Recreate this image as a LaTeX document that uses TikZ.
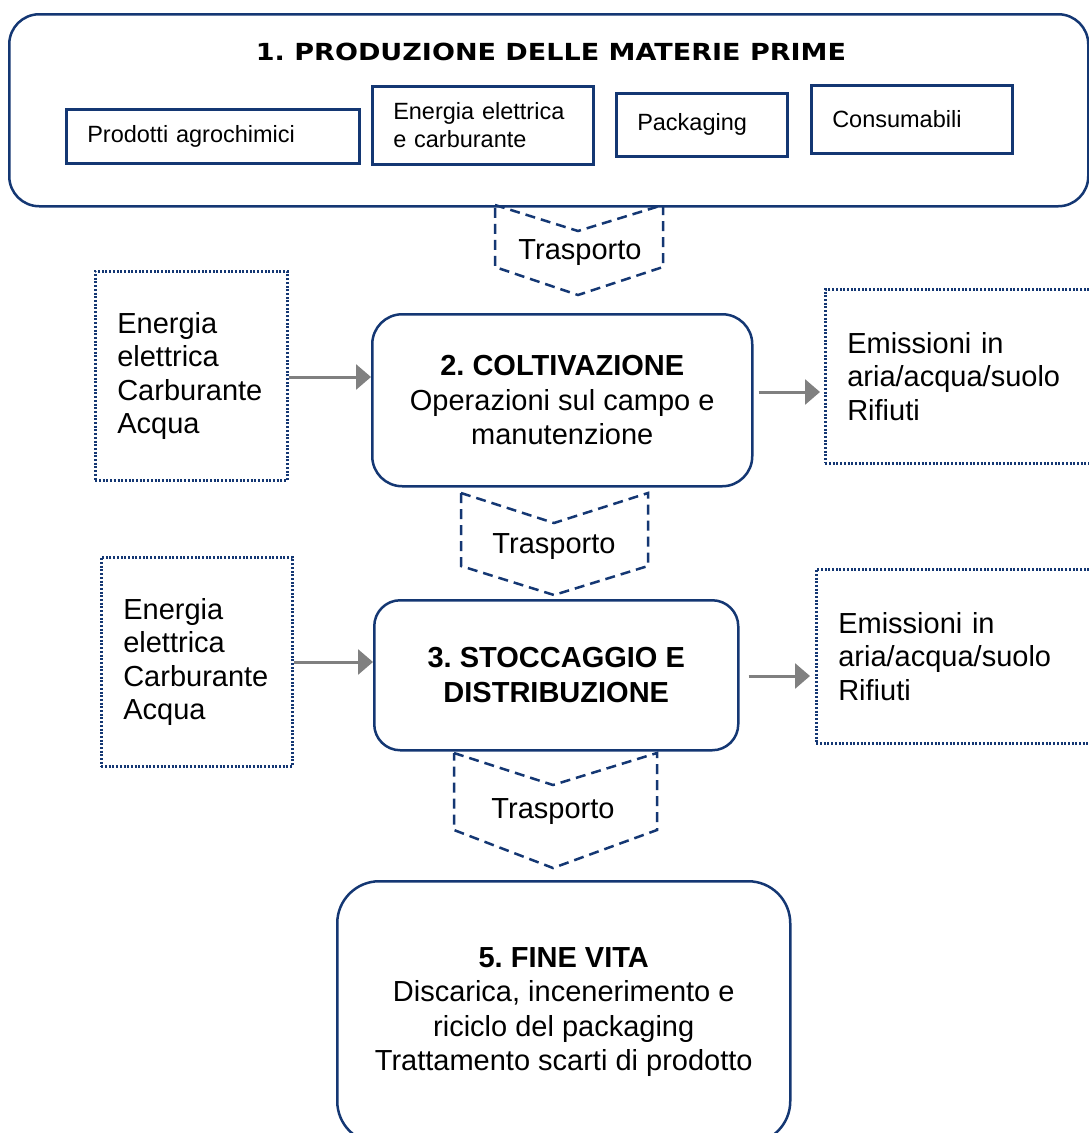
\documentclass[tikz,border=0pt]{standalone}
\usepackage{fontspec}
\setmainfont{Liberation Sans}
\newfontfamily\titlefont[FakeStretch=1.15]{DejaVu Sans}
\usetikzlibrary{arrows.meta}
\definecolor{navy}{RGB}{20,55,115}
\definecolor{arrgray}{RGB}{128,128,128}
\frenchspacing
\tikzset{
  bigbox/.style={draw=navy,line width=2.5pt,anchor=north west,inner sep=0pt,align=center,
    font=\fontsize{29}{34.5}\selectfont},
  smallbox/.style={draw=navy,line width=2.5pt,anchor=north west,inner xsep=21pt,inner ysep=0pt,
    align=left,font=\fontsize{23.5}{28}\selectfont},
  dotbox/.style={draw=navy,line width=2.6pt,dash pattern=on 2pt off 1.7pt,anchor=north west,
    inner xsep=22pt,inner ysep=0pt,align=left,font=\fontsize{29}{33.5}\selectfont},
  chev/.style={draw=navy,line width=2.5pt,dash pattern=on 10pt off 6pt},
  chevtext/.style={font=\fontsize{29}{34}\selectfont,inner sep=0pt},
  grayarr/.style={draw=arrgray,line width=3pt,-{Triangle[length=15pt,width=25pt]}},
}
\begin{document}
\begin{tikzpicture}[x=1pt,y=-1pt]
\clip (0,0) rectangle (1089,1133);
\fill[white] (0,0) rectangle (1089,1133);

% Box 1
\node[bigbox,rounded corners=30pt,minimum width=1079pt,minimum height=192pt] (p1) at (8,13) {};
\node[font=\titlefont\bfseries\fontsize{23.5}{27}\selectfont,inner sep=0pt] (p1t) at (551,52) {1. PRODUZIONE DELLE MATERIE PRIME};
\node[smallbox,text width=251pt,minimum height=54pt] (pa) at (65,108) {Prodotti agrochimici};
\node[smallbox,text width=179pt,minimum height=78pt] (pe) at (371,85) {Energia elettrica\\e carburante};
\node[smallbox,text width=129pt,minimum height=63pt] (pk) at (615,92) {Packaging};
\node[smallbox,text width=159pt,minimum height=68pt] (pc) at (810,84) {Consumabili};

% Chevron 1
\draw[chev] (495,205) -- (578,231) -- (663,205) -- (663,267) -- (578,295) -- (495,267) -- cycle;
\node[chevtext] (t1) at (580,253) {Trasporto};

% Box 2
\node[bigbox,rounded corners=30pt,minimum width=380pt,minimum height=172pt] (c2) at (371,313)
  {\textbf{2. COLTIVAZIONE}\\Operazioni sul campo e\\manutenzione};
\node[dotbox,text width=148pt,minimum height=209pt] (l1) at (94,270)
  {Energia\\elettrica\\Carburante\\Acqua};
\node[dotbox,text width=236pt,minimum height=174pt] (r1) at (824,288)
  {Emissioni in\\aria/acqua/suolo\\Rifiuti};
\draw[grayarr] (l1.east |- 0,377) -- (c2.west |- 0,377);
\draw[grayarr,shorten <=5pt,shorten >=4pt] (c2.east |- 0,392) -- (r1.west |- 0,392);

% Chevron 2
\draw[chev] (461,493) -- (554,523) -- (648,493) -- (648,566) -- (554,595) -- (461,566) -- cycle;
\node[chevtext] (t2) at (554,547) {Trasporto};

% Box 3
\node[bigbox,rounded corners=26pt,minimum width=364pt,minimum height=150pt] (c3) at (373,599)
  {\textbf{3. STOCCAGGIO E}\\\textbf{DISTRIBUZIONE}};
\node[dotbox,text width=147pt,minimum height=209pt] (l2) at (100,556)
  {Energia\\elettrica\\Carburante\\Acqua};
\node[dotbox,text width=246pt,minimum height=174pt] (r2) at (815,568)
  {Emissioni in\\aria/acqua/suolo\\Rifiuti};
\draw[grayarr] (l2.east |- 0,662) -- (c3.west |- 0,662);
\draw[grayarr,shorten <=9pt,shorten >=5pt] (c3.east |- 0,676) -- (r2.west |- 0,676);

% Chevron 3
\draw[chev] (454,753) -- (553,785) -- (657,753) -- (657,830) -- (553,868) -- (454,830) -- cycle;
\node[chevtext] (t3) at (553,812) {Trasporto};

% Box 5
\node[bigbox,rounded corners=42pt,minimum width=453pt,minimum height=262pt] (c5) at (336,880)
  {\textbf{5. FINE VITA}\\Discarica, incenerimento e\\riciclo del packaging\\Trattamento scarti di prodotto};
\end{tikzpicture}
\end{document}
